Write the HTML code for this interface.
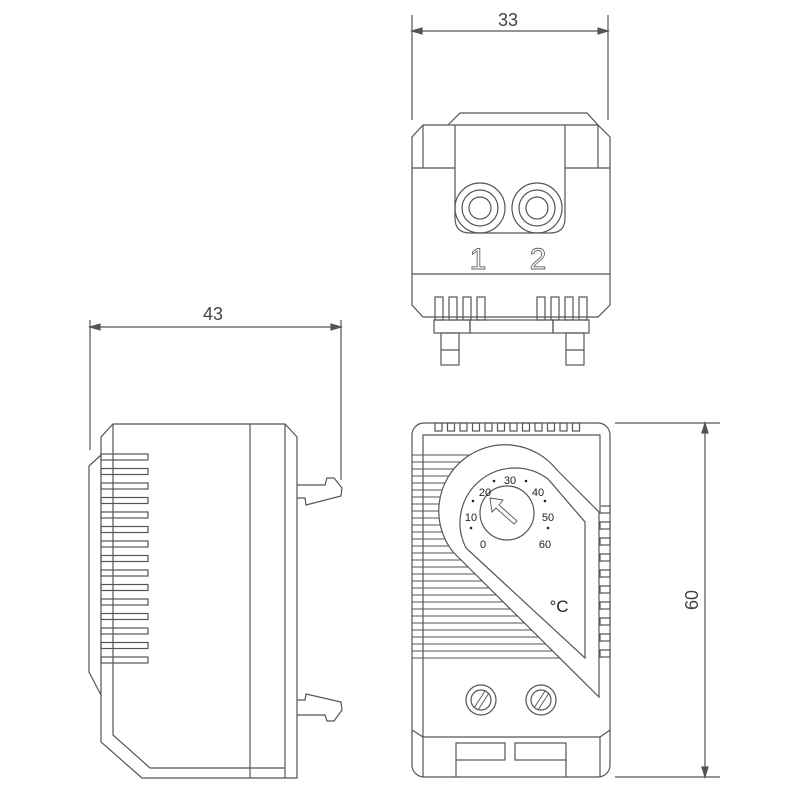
<!DOCTYPE html>
<html><head><meta charset="utf-8"><style>html,body{margin:0;padding:0;background:#fff}svg{display:block}</style></head>
<body>
<svg width="800" height="800" viewBox="0 0 800 800" xmlns="http://www.w3.org/2000/svg" fill="none" stroke="#555" stroke-width="1.2" font-family="Liberation Sans, sans-serif">
<!-- dimension 33 -->
<line x1="412" y1="15" x2="412" y2="120"/><line x1="608" y1="15" x2="608" y2="120"/>
<line x1="412" y1="31" x2="608" y2="31"/>
<path d="M412 31 l10 -3 v6 z M608 31 l-10 -3 v6 z" fill="#555"/>
<text x="508" y="26" font-size="18" fill="#444" stroke="none" text-anchor="middle">33</text>
<!-- dimension 43 -->
<line x1="90" y1="320" x2="90" y2="450"/><line x1="341" y1="320" x2="341" y2="480"/>
<line x1="90" y1="327" x2="341" y2="327"/>
<path d="M90 327 l10 -3 v6 z M341 327 l-10 -3 v6 z" fill="#555"/>
<text x="213" y="320" font-size="18" fill="#444" stroke="none" text-anchor="middle">43</text>
<!-- dimension 60 -->
<line x1="615" y1="423" x2="720" y2="423"/><line x1="615" y1="777" x2="720" y2="777"/>
<line x1="705" y1="423" x2="705" y2="777"/>
<path d="M705 423 l-3 10 h6 z M705 777 l-3 -10 h6 z" fill="#555"/>
<text x="0" y="0" font-size="18" fill="#444" stroke="none" text-anchor="middle" transform="translate(698,600) rotate(-90)">60</text>

<!-- top view -->
<path d="M448 125 L460 113 L587 113 L598 125"/>
<path d="M423 125 L598 125 L610 137 L610 305 L598 317 L423 317 L412 305 L412 137 Z"/>
<path d="M423 125 L423 168 L412 168"/><path d="M598 125 L598 168 L610 168"/>
<line x1="423" y1="168" x2="455" y2="168"/><line x1="565" y1="168" x2="598" y2="168"/>
<path d="M455 125 L455 218 Q455 233 470 233 L550 233 Q565 233 565 218 L565 125"/>
<circle cx="480" cy="208" r="25"/><circle cx="480" cy="208" r="18"/><circle cx="480" cy="208" r="11"/>
<circle cx="537" cy="208" r="25"/><circle cx="537" cy="208" r="18"/><circle cx="537" cy="208" r="11"/>
<text x="478" y="269" font-size="30" fill="none" stroke="#666" stroke-width="0.9" text-anchor="middle">1</text>
<text x="538" y="269" font-size="30" fill="none" stroke="#666" stroke-width="0.9" text-anchor="middle">2</text>
<line x1="412" y1="274" x2="610" y2="274"/>
<g>
<rect x="435" y="297" width="8" height="23"/><rect x="449" y="297" width="8" height="23"/><rect x="463" y="297" width="8" height="23"/><rect x="477" y="297" width="8" height="23"/>
<rect x="537" y="297" width="8" height="23"/><rect x="551" y="297" width="8" height="23"/><rect x="565" y="297" width="8" height="23"/><rect x="579" y="297" width="8" height="23"/>
</g>
<rect x="434" y="320" width="36" height="13"/><rect x="553" y="320" width="36" height="13"/>
<rect x="470" y="320" width="83" height="13"/>
<rect x="441" y="333" width="18" height="32"/><line x1="441" y1="350" x2="459" y2="350"/>
<rect x="566" y="333" width="18" height="32"/><line x1="566" y1="350" x2="584" y2="350"/>

<!-- side view -->
<path d="M113 424 L285 424 L297 437 L297 778 L142 778 L101 742 L101 437 Z"/>
<path d="M113 424 L113 735 L150 768 L285 768"/>
<line x1="285" y1="424" x2="285" y2="778"/>
<line x1="250" y1="424" x2="250" y2="778"/>
<path d="M101 455 L89 466 L89 672 L101 695"/>
<g>
<rect x="101" y="454" width="47" height="6"/><rect x="101" y="468.5" width="47" height="6"/><rect x="101" y="483" width="47" height="6"/><rect x="101" y="497.5" width="47" height="6"/><rect x="101" y="512" width="47" height="6"/><rect x="101" y="526.5" width="47" height="6"/><rect x="101" y="541" width="47" height="6"/><rect x="101" y="555.5" width="47" height="6"/><rect x="101" y="570" width="47" height="6"/><rect x="101" y="584.5" width="47" height="6"/><rect x="101" y="599" width="47" height="6"/><rect x="101" y="613.5" width="47" height="6"/><rect x="101" y="628" width="47" height="6"/><rect x="101" y="642.5" width="47" height="6"/><rect x="101" y="657" width="47" height="6"/>
</g>
<path d="M297 485 L325 485 L327 478 L334 478 L342 488 L341 496 L306 505 L305 498 L297 498"/>
<path d="M297 700 L305 700 L306 694 L341 702 L342 710 L334 721 L327 721 L325 715 L297 715"/>

<!-- front view -->
<rect x="412" y="423" width="198" height="354" rx="12"/>
<g>
<rect x="435" y="423" width="7" height="8"/><rect x="447.5" y="423" width="7" height="8"/><rect x="460" y="423" width="7" height="8"/><rect x="472.5" y="423" width="7" height="8"/><rect x="485" y="423" width="7" height="8"/><rect x="497.5" y="423" width="7" height="8"/><rect x="510" y="423" width="7" height="8"/><rect x="522.5" y="423" width="7" height="8"/><rect x="535" y="423" width="7" height="8"/><rect x="547.5" y="423" width="7" height="8"/><rect x="560" y="423" width="7" height="8"/><rect x="572.5" y="423" width="7" height="8"/>
</g>
<line x1="423" y1="455" x2="423" y2="737"/>
<!-- left vents (full width, covered by teardrop) -->
<g stroke-width="1">
<path d="M412 455h187 M412 462h187 M412 469h187 M412 476h187 M412 483h187 M412 490h187 M412 497h187 M412 504h187 M412 511h187 M412 518h187 M412 525h187 M412 532h187 M412 539h187 M412 546h187 M412 553h187 M412 560h187 M412 567h187 M412 574h187 M412 581h187 M412 588h187 M412 595h187 M412 602h187 M412 609h187 M412 616h187 M412 623h187 M412 630h187 M412 637h187 M412 644h187 M412 651h187 M412 658h187"/>
<path d="M423 462v-7 M423 476v-7 M423 490v-7 M423 504v-7 M423 518v-7 M423 532v-7 M423 546v-7 M423 560v-7 M423 574v-7 M423 588v-7 M423 602v-7 M423 616v-7 M423 630v-7 M423 644v-7 M423 658v-7"/>
</g>
<polygon points="505,448 599,448 599,512 557,470 505,456" fill="#fff" stroke="none"/>
<path d="M423 455 L423 435 L600 435 L600 505"/>
<!-- right vents -->
<g>
<rect x="600" y="506" width="10" height="7"/><rect x="600" y="522" width="10" height="7"/><rect x="600" y="538" width="10" height="7"/><rect x="600" y="554" width="10" height="7"/><rect x="600" y="570" width="10" height="7"/><rect x="600" y="586" width="10" height="7"/><rect x="600" y="602" width="10" height="7"/><rect x="600" y="618" width="10" height="7"/><rect x="600" y="634" width="10" height="7"/><rect x="600" y="650" width="10" height="7"/>
</g>
<!-- teardrop -->
<path d="M453 552 A65 65 0 0 1 557 470 L599 512 L599 697 Z" fill="#fff"/>
<path d="M466 548 A55 55 0 0 1 548 479 L585 522 L585 658 Z"/>
<circle cx="507" cy="513" r="27"/>
<path d="M490 498 L503 500 L499 505 L517 521 L514 524 L496 508 L492 512 Z" stroke-width="0.9"/>
<g font-size="11" fill="#222" stroke="none" text-anchor="middle">
<text x="483" y="548">0</text><text x="471" y="521">10</text><text x="485" y="496">20</text><text x="510" y="484">30</text><text x="538" y="496">40</text><text x="548" y="521">50</text><text x="545" y="548">60</text>
</g>
<g fill="#222" stroke="none">
<circle cx="494" cy="481" r="1.3"/><circle cx="526" cy="481" r="1.3"/><circle cx="473" cy="501" r="1.3"/><circle cx="545" cy="501" r="1.3"/><circle cx="471" cy="528" r="1.3"/><circle cx="548" cy="528" r="1.3"/>
</g>
<text x="559" y="612" font-size="17" fill="#222" stroke="none" text-anchor="middle">°C</text>
<!-- screws -->
<circle cx="481" cy="700" r="15"/><circle cx="481" cy="700" r="10"/>
<path d="M474 708 L485 691 M478 710 L489 693" stroke-width="0.9"/>
<circle cx="541" cy="700" r="15"/><circle cx="541" cy="700" r="10"/>
<path d="M534 708 L545 691 M538 710 L549 693" stroke-width="0.9"/>
<path d="M412 730 L423 737 L600 737 L610 730"/>
<line x1="423" y1="737" x2="423" y2="777"/><line x1="600" y1="737" x2="600" y2="777"/>
<rect x="456" y="743" width="49" height="17"/><rect x="515" y="743" width="51" height="17"/>
<path d="M456 760 V777 M566 760 V777"/>
</svg>
</body></html>
